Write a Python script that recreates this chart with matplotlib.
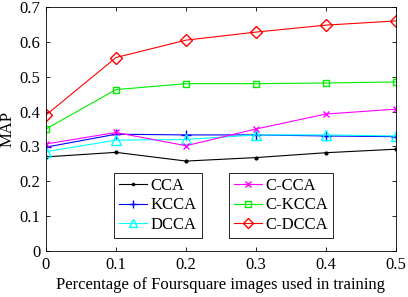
import numpy as np
from matplotlib import pyplot as plt

plt.rcParams['font.family'] = 'Liberation Serif'

x = [0, 0.1, 0.2, 0.3, 0.4, 0.5]
cca = [0.270, 0.283, 0.258, 0.268, 0.282, 0.292]
kcca = [0.298, 0.335, 0.333, 0.333, 0.330, 0.328]
dcca = [0.285, 0.318, 0.320, 0.333, 0.333, 0.330]
c_cca = [0.307, 0.340, 0.302, 0.350, 0.393, 0.407]
c_kcca = [0.350, 0.463, 0.480, 0.480, 0.482, 0.485]
c_dcca = [0.390, 0.555, 0.605, 0.628, 0.648, 0.660]

fig = plt.figure(figsize=(4.08, 2.97), dpi=100)
ax = fig.add_axes([46 / 408, 46 / 297, 350 / 408, 244 / 297])

l1, = ax.plot(x, cca, color='black', marker='.', markersize=4, lw=0.8, label='CCA')
l2, = ax.plot(x, kcca, color='blue', marker='+', markersize=7, lw=0.8, label='KCCA')
l3, = ax.plot(x, dcca, color='cyan', marker='^', markersize=7, mfc='none', lw=0.8, label='DCCA')
l4, = ax.plot(x, c_cca, color='magenta', marker='x', markersize=5, lw=0.8, label='C-CCA')
l5, = ax.plot(x, c_kcca, color='#00ee00', marker='s', markersize=5, mfc='none', lw=0.8, label='C-KCCA')
l6, = ax.plot(x, c_dcca, color='red', marker='D', markersize=6, mfc='none', lw=0.8, label='C-DCCA')

ax.set_xlim(0, 0.5)
ax.set_ylim(0, 0.7)
ax.set_xticks(x)
ax.set_xticklabels(['0', '0.1', '0.2', '0.3', '0.4', '0.5'])
ax.set_yticks(np.arange(0, 0.71, 0.1))
ax.set_yticklabels(['0', '0.1', '0.2', '0.3', '0.4', '0.5', '0.6', '0.7'])
ax.tick_params(direction='in', top=True, right=True, labelsize=12, length=3, width=0.6, pad=4)
for s in ax.spines.values():
    s.set_linewidth(0.6)
ax.set_xlabel('Percentage of Foursquare images used in training', fontsize=12, labelpad=3)
ax.set_ylabel('MAP', fontsize=12, labelpad=3)

kw = dict(fontsize=12, frameon=True, fancybox=False, edgecolor='black',
          framealpha=1, handlelength=1.7, handletextpad=0.2, labelspacing=0.2,
          borderpad=0.3, borderaxespad=0, markerscale=0.8)
leg1 = ax.legend(handles=[l1, l2, l3], loc='upper left',
                 bbox_to_anchor=(68 / 350, 78 / 244), **kw)
leg1.get_frame().set_linewidth(0.6)
ax.add_artist(leg1)
leg2 = ax.legend(handles=[l4, l5, l6], loc='upper left',
                 bbox_to_anchor=(183 / 350, 78 / 244), **kw)
leg2.get_frame().set_linewidth(0.6)

fig.savefig('out.png', dpi=100)
